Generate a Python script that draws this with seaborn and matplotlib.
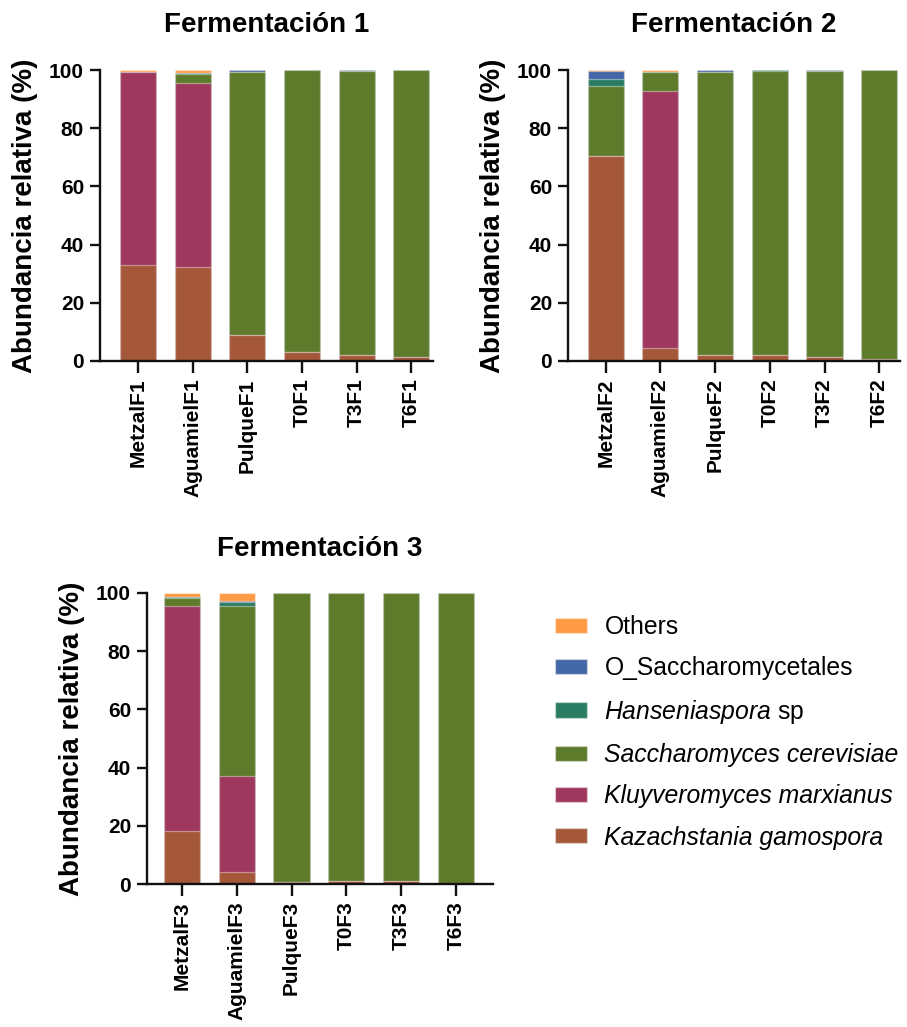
import numpy as np
import pandas as pd
import matplotlib
matplotlib.use("Agg")
import matplotlib.pyplot as plt
import seaborn as sns
from matplotlib.patches import Patch

sns.set_style("ticks")
plt.rcParams["font.family"] = ["Liberation Sans", "DejaVu Sans"]
plt.rcParams.update({
    "text.color": "black",
    "axes.labelcolor": "black",
    "xtick.color": "black",
    "ytick.color": "black",
    "mathtext.fontset": "custom",
    "mathtext.rm": "Liberation Sans",
    "mathtext.it": "Liberation Sans:italic",
})

# Taxa, listed bottom-to-top in each stack
taxa = ["Kazachstania gamospora", "Kluyveromyces marxianus", "Saccharomyces cerevisiae",
        "Hanseniaspora sp", "O_Saccharomycetales", "Others"]
colors = {
    "Kazachstania gamospora": "#A5573A",
    "Kluyveromyces marxianus": "#9E385E",
    "Saccharomyces cerevisiae": "#5E7A2B",
    "Hanseniaspora sp": "#2A7D62",
    "O_Saccharomycetales": "#4467A6",
    "Others": "#FF9A45",
}

# Fermentación 1
samples1 = ["MetzalF1", "AguamielF1", "PulqueF1", "T0F1", "T3F1", "T6F1"]
kaz1 = [33.0, 32.4, 8.8, 3.0, 2.2, 1.4]
kluy1 = [66.2, 63.0, 0.0, 0.0, 0.0, 0.0]
sacc1 = [0.0, 3.2, 90.4, 96.9, 97.3, 98.6]
hans1 = [0.0, 0.2, 0.0, 0.1, 0.0, 0.0]
osac1 = [0.2, 0.0, 0.8, 0.0, 0.5, 0.0]
oth1 = [0.6, 1.2, 0.0, 0.0, 0.0, 0.0]

# Fermentación 2
samples2 = ["MetzalF2", "AguamielF2", "PulqueF2", "T0F2", "T3F2", "T6F2"]
kaz2 = [70.4, 4.4, 2.1, 2.0, 1.3, 0.8]
kluy2 = [0.0, 88.5, 0.0, 0.0, 0.0, 0.0]
sacc2 = [24.2, 6.3, 97.2, 97.7, 98.2, 99.2]
hans2 = [2.2, 0.0, 0.0, 0.3, 0.0, 0.0]
osac2 = [2.9, 0.0, 0.7, 0.0, 0.5, 0.0]
oth2 = [0.3, 0.8, 0.0, 0.0, 0.0, 0.0]

# Fermentación 3
samples3 = ["MetzalF3", "AguamielF3", "PulqueF3", "T0F3", "T3F3", "T6F3"]
kaz3 = [18.2, 4.2, 0.8, 1.0, 1.0, 0.0]
kluy3 = [77.4, 32.9, 0.0, 0.0, 0.0, 0.0]
sacc3 = [2.6, 58.5, 99.2, 99.0, 99.0, 100.0]
hans3 = [0.3, 1.2, 0.0, 0.0, 0.0, 0.0]
osac3 = [0.0, 0.4, 0.0, 0.0, 0.0, 0.0]
oth3 = [1.5, 2.8, 0.0, 0.0, 0.0, 0.0]

W, H = 907, 1027
fig = plt.figure(figsize=(W / 100, H / 100), dpi=100)


def make_axes(left, right, top, bottom):
    return fig.add_axes([left / W, 1 - bottom / H, (right - left) / W, (bottom - top) / H])


def draw_panel(ax, samples, layers, title, xlim):
    # stacked bars: draw cumulative totals from the top layer down
    tops = np.cumsum(np.array(layers, dtype=float), axis=0)
    for name, top in reversed(list(zip(taxa, tops))):
        df = pd.DataFrame({"muestra": samples, "valor": top})
        sns.barplot(data=df, x="muestra", y="valor", order=samples,
                    color=colors[name], saturation=1, width=0.66,
                    edgecolor=(1, 1, 1, 0.4), linewidth=0.9,
                    errorbar=None, ax=ax)
    ax.set_xlim(*xlim)
    ax.set_ylim(0, 100)
    ax.set_yticks(range(0, 101, 20))
    ax.set_xlabel("")
    ax.set_ylabel("Abundancia relativa (%)", fontsize=20, fontweight="bold", labelpad=8)
    ax.set_title(title, fontsize=20, fontweight="bold", pad=27)
    sns.despine(ax=ax)
    for s in ("left", "bottom"):
        ax.spines[s].set_linewidth(1.7)
        ax.spines[s].set_color("#111111")
    ax.tick_params(axis="both", length=7.5, width=1.7, color="#111111",
                   labelsize=15, pad=4)
    ax.tick_params(axis="x", length=8.5, labelrotation=90)
    for lab in ax.get_xticklabels() + ax.get_yticklabels():
        lab.set_fontweight("bold")


ax1 = make_axes(100, 433, 70, 361)
draw_panel(ax1, samples1, [kaz1, kluy1, sacc1, hans1, osac1, oth1],
           "Fermentación 1", (-0.70, 5.40))

ax2 = make_axes(568, 900, 70, 361)
draw_panel(ax2, samples2, [kaz2, kluy2, sacc2, hans2, osac2, oth2],
           "Fermentación 2", (-0.69, 5.38))

ax3 = make_axes(147, 493, 593, 884)
draw_panel(ax3, samples3, [kaz3, kluy3, sacc3, hans3, osac3, oth3],
           "Fermentación 3", (-0.64, 5.68))

# legend, top layer first
italic = {"Kazachstania gamospora", "Kluyveromyces marxianus",
          "Saccharomyces cerevisiae"}
handles = [Patch(facecolor=colors[t], edgecolor=(1, 1, 1, 0.4)) for t in reversed(taxa)]
labels = list(reversed(taxa))
leg = fig.legend(handles, labels, loc="upper left",
                 bbox_to_anchor=(555 / W, 1 - 615 / H), frameon=False,
                 fontsize=17.8, handlelength=1.3, handleheight=0.58,
                 handletextpad=0.7, labelspacing=0.70, borderpad=0, borderaxespad=0)
for txt in leg.get_texts():
    name = txt.get_text()
    if name == "Hanseniaspora sp":
        txt.set_text(r"$\it{Hanseniaspora}$ sp")
    elif name in italic:
        txt.set_fontstyle("italic")

fig.savefig("out.png", dpi=100)
